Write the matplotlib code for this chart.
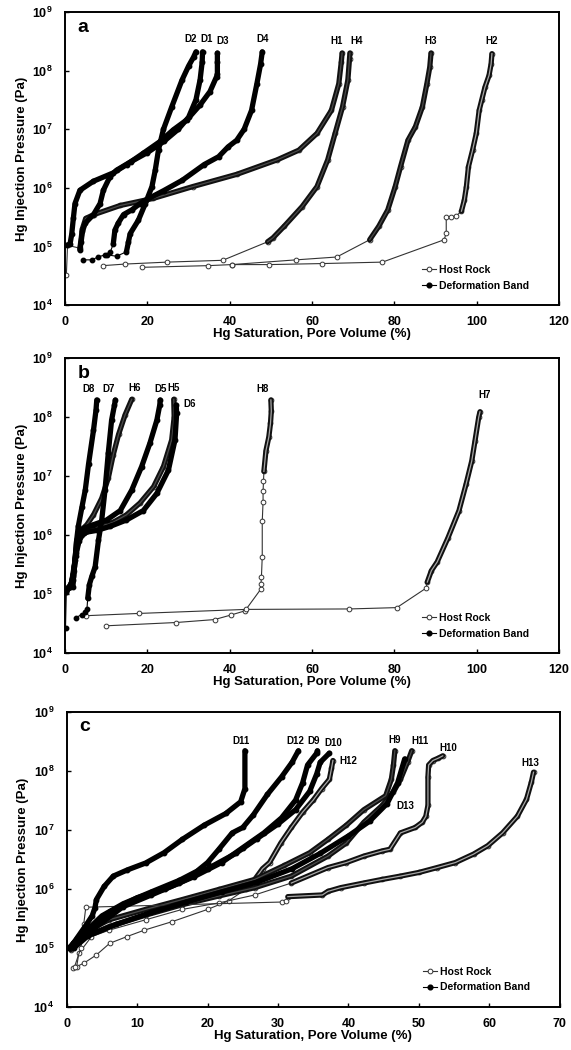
import numpy as np
import matplotlib
matplotlib.use("Agg")
import matplotlib.pyplot as plt
from matplotlib.lines import Line2D

plt.rcParams['font.family'] = ['Liberation Sans', 'DejaVu Sans']
plt.rcParams['font.weight'] = 'bold'
plt.rcParams['mathtext.fontset'] = 'custom'
plt.rcParams['mathtext.rm'] = 'Liberation Sans:bold'
plt.rcParams['mathtext.default'] = 'rm'

# ---- panel a : saturation (%) and injection pressure (Pa) ----
a_d1_x = [3.6, 3.9, 4.2, 4.9, 6.9, 8.5, 9.3, 10.9, 12.5, 16, 20, 24, 27.5, 30, 31.8, 32.8, 33.3, 33.4]
a_d1_p = [8.7e4, 1.2e5, 1.8e5, 2.5e5, 3.5e5, 5.4e5, 9.1e5, 1.55e6, 2e6, 2.8e6, 4e6, 6.2e6, 1e7, 1.6e7, 3.2e7, 7e7, 1.4e8, 2.1e8]
a_d2_x = [10.1, 12.5, 14.9, 15.4, 15.8, 17.8, 19.5, 21.1, 21.9, 22.7, 23.9, 25.9, 28.4, 30.0, 31.2, 31.8]
a_d2_p = [7.2e4, 6.8e4, 8.1e4, 1.2e5, 1.65e5, 2.8e5, 5.4e5, 1.05e6, 2e6, 4.5e6, 1e7, 2.4e7, 6.9e7, 1.2e8, 1.7e8, 2.1e8]
a_d3_x = [0.5, 1.2, 1.6, 2.0, 2.4, 3.6, 6.9, 11.7, 15.0, 19.0, 23.1, 26.3, 29.6, 32.8, 35.2, 36.8, 37.0, 37.0, 37.0]
a_d3_p = [1.05e5, 1.1e5, 1.6e5, 3e5, 5.4e5, 9.1e5, 1.3e6, 1.8e6, 2.5e6, 3.9e6, 6.2e6, 9.8e6, 1.45e7, 2.6e7, 4.4e7, 7.9e7, 8.9e7, 1.4e8, 2e8]
a_d4_x = [4.4, 6.6, 7.9, 9.8, 11.0, 11.7, 12.1, 12.9, 14.2, 16.2, 18.2, 19.6, 24.0, 28.5, 33.8, 37.3, 39.6, 41.7, 43.5, 45.3, 46.6, 47.5, 47.9]
a_d4_p = [5.9e4, 5.9e4, 6.6e4, 7.2e4, 8.1e4, 1.1e5, 1.9e5, 2.5e5, 3.5e5, 4.2e5, 5.4e5, 6.2e5, 9e5, 1.35e6, 2.5e6, 3.4e6, 5e6, 6.5e6, 1e7, 2.1e7, 6e7, 1.3e8, 2.1e8]
a_h1_x = [0.3, 0.6, 3.6, 4.2, 5.0, 7.0, 13.4, 21.4, 31.0, 41.7, 51.5, 56.8, 61.2, 64.7, 66.5, 67.1, 67.3]
a_h1_p = [3.2e4, 1.05e5, 9.3e4, 2e5, 3e5, 3.5e5, 5e5, 6.6e5, 1.05e6, 1.7e6, 3e6, 4.4e6, 8.5e6, 2.1e7, 6e7, 1.4e8, 2e8]
a_h4_x = [9.2, 14.5, 24.8, 38.3, 49.2, 50.5, 53.2, 57.6, 61.2, 63.8, 65.6, 67.4, 68.7, 69.1, 69.2]
a_h4_p = [4.7e4, 5e4, 5.4e4, 5.8e4, 1.2e5, 1.4e5, 2.2e5, 4.8e5, 1.05e6, 3e6, 8.5e6, 2.4e7, 6.9e7, 1.6e8, 2e8]
a_h3_x = [40.5, 56.1, 66.0, 74.0, 76.2, 78.4, 80.2, 81.5, 83.3, 85.1, 86.8, 87.9, 88.6, 88.9]
a_h3_p = [4.9e4, 5.9e4, 6.6e4, 1.3e5, 2.2e5, 4.2e5, 1.05e6, 2.3e6, 6.5e6, 1.1e7, 2.4e7, 6e7, 1.15e8, 2e8]
a_h2_x = [18.6, 34.7, 40.5, 49.5, 62.4, 77.1, 92.1, 92.6, 92.6, 93.7, 95.0, 96.3, 97.0, 97.5, 98.0, 99.0, 99.9, 100.6, 101.2, 102.0, 103.0, 103.5, 103.7]
a_h2_p = [4.4e4, 4.7e4, 4.9e4, 4.9e4, 5.1e4, 5.4e4, 1.3e5, 1.7e5, 3.2e5, 3.2e5, 3.3e5, 4e5, 6.2e5, 1.05e6, 2.3e6, 4.4e6, 8.5e6, 2.1e7, 3.1e7, 5.2e7, 8.3e7, 1.3e8, 1.95e8]

# ---- panel b ----
b_d8_x = [0.1, 0.3, 1.0, 1.9, 2.0, 2.4, 2.8, 3.2, 4.1, 4.9, 5.7, 6.9, 7.5, 7.7]
b_d8_p = [2.7e4, 1.1e5, 1.3e5, 1.3e5, 1.7e5, 3.8e5, 8.1e5, 1.4e6, 3e6, 5.8e6, 1.6e7, 6e7, 1.3e8, 1.95e8]
b_d7_x = [2.7, 4.0, 4.9, 5.3, 5.5, 5.9, 6.5, 7.3, 8.1, 8.9, 9.7, 10.5, 11.3, 12.0, 12.2]
b_d7_p = [4.0e4, 4.5e4, 5.0e4, 5.5e4, 8.5e4, 1.45e5, 2e5, 2.9e5, 8.1e5, 1.8e6, 5.8e6, 2.5e7, 8.9e7, 1.6e8, 1.95e8]
b_h6_x = [0.3, 0.8, 1.5, 2.2, 2.8, 3.6, 5.3, 6.9, 8.9, 10.5, 11.7, 13.0, 14.6, 16.2]
b_h6_p = [1.1e5, 1.3e5, 1.5e5, 2.5e5, 8e5, 1.15e6, 1.5e6, 2.2e6, 4.2e6, 9.3e6, 2.3e7, 5.1e7, 1.1e8, 2e8]
b_d5_x = [0.5, 1.2, 2.0, 2.6, 3.2, 4.5, 6.9, 10.1, 13.4, 16.2, 18.6, 20.6, 22.3, 23.0, 23.1]
b_d5_p = [1.2e5, 1.3e5, 2e5, 5e5, 9.3e5, 1.3e6, 1.5e6, 1.8e6, 2.6e6, 5.8e6, 1.45e7, 3.6e7, 8.9e7, 1.6e8, 1.95e8]
b_h5_x = [1.0, 1.6, 2.2, 3.0, 4.0, 6.1, 8.5, 11.7, 14.9, 18.2, 21.5, 23.9, 25.9, 26.5, 26.4]
b_h5_p = [1.3e5, 1.6e5, 3e5, 7e5, 1e6, 1.2e6, 1.4e6, 1.65e6, 2.2e6, 3.5e6, 6.6e6, 1.45e7, 4.1e7, 1e8, 2e8]
b_d6_x = [1.3, 2.0, 2.6, 3.4, 4.5, 7.7, 10.9, 14.9, 19.0, 22.3, 25.1, 26.7, 27.1, 27.0]
b_d6_p = [1.3e5, 2.2e5, 4.5e5, 8e5, 1.1e6, 1.2e6, 1.4e6, 1.8e6, 2.6e6, 5.1e6, 1.26e7, 4.1e7, 1.15e8, 1.6e8]
b_h8_x = [9.9, 27.0, 36.3, 40.2, 43.7, 47.5, 47.6, 47.7, 47.9, 47.9, 48.1, 48.1, 48.2, 48.3, 48.8, 49.5, 49.9, 50.1, 50.0]
b_h8_p = [2.9e4, 3.3e4, 3.7e4, 4.4e4, 5.2e4, 1.2e5, 1.5e5, 1.95e5, 4.3e5, 1.7e6, 3.7e6, 5.5e6, 8.1e6, 1.2e7, 2.7e7, 4.6e7, 7.8e7, 1.26e8, 1.95e8]
b_h7_x = [5.0, 17.9, 43.9, 69.0, 80.6, 87.7, 88.0, 89.0, 90.4, 93.0, 95.7, 97.4, 98.8, 99.6, 100.5, 100.8]
b_h7_p = [4.3e4, 4.7e4, 5.5e4, 5.6e4, 5.9e4, 1.26e5, 1.6e5, 2.5e5, 3.5e5, 8.9e5, 2.6e6, 7.2e6, 1.8e7, 4e7, 1e8, 1.23e8]

# ---- panel c ----
c_d11_x = [0.6, 1.5, 2.8, 3.6, 4.0, 4.2, 5.3, 6.6, 8.6, 11.2, 13.8, 16.4, 19.5, 22.6, 24.7, 25.3, 25.3]
c_d11_p = [1.05e5, 1.5e5, 2.5e5, 3.5e5, 4.8e5, 6.6e5, 1.1e6, 1.65e6, 2.1e6, 2.75e6, 4.1e6, 6.9e6, 1.2e7, 1.9e7, 3e7, 5e7, 2.2e8]
c_d12_x = [0.3, 2.0, 5.0, 8.0, 12.0, 16.0, 18.5, 20.0, 21.6, 23.5, 25.0, 26.5, 28.5, 30.5, 32.0, 32.9]
c_d12_p = [1e5, 1.6e5, 3.5e5, 5.6e5, 8.9e5, 1.4e6, 2e6, 2.8e6, 4.7e6, 8.9e6, 1.1e7, 1.8e7, 4e7, 7.9e7, 1.4e8, 2.2e8]
c_d9_x = [0.8, 3, 6, 10, 14, 18, 22, 25, 28, 30.5, 32.5, 33.5, 34.2, 35.5, 35.6]
c_d9_p = [1.1e5, 2e5, 4e5, 7.1e5, 1e6, 1.6e6, 2.8e6, 5e6, 8.9e6, 1.6e7, 3.2e7, 6.3e7, 1.26e8, 2e8, 2.2e8]
c_d10_x = [1.2, 4, 8, 12, 16, 20, 24, 27, 30, 32.5, 34.5, 35.5, 36.0, 37.3]
c_d10_p = [1.1e5, 2.2e5, 5e5, 7.9e5, 1.26e6, 2.2e6, 4e6, 7.1e6, 1.26e7, 2.2e7, 4.5e7, 8.9e7, 1.4e8, 2e8]
c_h12_x = [0.9, 2.5, 4.2, 6.1, 8.5, 11, 15, 20, 23, 25.5, 26.7, 27.8, 28.8, 30.4, 31.9, 33.5, 35.0, 36.2, 37.3, 37.6, 37.8]
c_h12_p = [4.5e4, 5.6e4, 7.6e4, 1.2e5, 1.55e5, 2e5, 2.8e5, 4.5e5, 6.3e5, 1e6, 1.45e6, 2.2e6, 2.8e6, 6e6, 1.1e7, 2e7, 3.2e7, 5e7, 7.2e7, 1.1e8, 1.5e8]
c_h9_x = [0.9, 2.4, 6, 11.2, 16.4, 21.6, 26.7, 30.9, 34.5, 37.1, 39.7, 42.2, 45.3, 46.1, 46.4, 46.6]
c_h9_p = [1.2e5, 1.8e5, 3e5, 4.5e5, 6.6e5, 9.8e5, 1.45e6, 2.5e6, 4.1e6, 6.9e6, 1.2e7, 2.2e7, 3.8e7, 7.2e7, 1.26e8, 2.2e8]
c_h11_x = [0.6, 1.9, 6, 11.2, 16.4, 21.6, 26.7, 31.9, 37.1, 39.7, 42.2, 44.8, 46.4, 47.4, 48.4, 49.0]
c_h11_p = [9.3e4, 1.4e5, 2.3e5, 3.6e5, 5.4e5, 7.6e5, 1.05e6, 1.65e6, 3.6e6, 6e6, 1.35e7, 2.6e7, 4.4e7, 7.2e7, 1.4e8, 2.2e8]
c_d13_x = [1.0, 3.0, 7.0, 12.0, 17.0, 22.0, 27.0, 32.0, 36.0, 40.0, 43.0, 45.5, 47.0, 48.0]
c_d13_p = [1e5, 1.6e5, 2.5e5, 4e5, 6e5, 8.9e5, 1.3e6, 2.2e6, 4e6, 7.9e6, 1.4e7, 2.8e7, 6.3e7, 1.6e8]
c_h10_x = [1.4, 1.7, 3.5, 6.0, 11.2, 16.4, 21.6, 26.7, 31.9, 37.1, 39.7, 42.2, 44.8, 45.9, 47.4, 49.5, 50.5, 51.0, 51.3, 51.3, 51.4, 52.0, 52.8, 53.4]
c_h10_p = [4.8e4, 8.1e4, 1.55e5, 2e5, 3e5, 4.5e5, 5.8e5, 7.9e5, 1.26e6, 2.3e6, 2.8e6, 3.6e6, 4.4e6, 4.7e6, 8.9e6, 1.1e7, 1.35e7, 1.7e7, 2.6e7, 7.9e7, 1.26e8, 1.5e8, 1.65e8, 1.8e8]
c_h13_x = [1.1, 2.0, 2.4, 2.7, 30.6, 31.2, 31.4, 36.3, 37.1, 38.9, 42.2, 44.8, 47.4, 50.0, 52.6, 55.2, 57.8, 59.8, 61.9, 64.0, 65.3, 66.0, 66.3]
c_h13_p = [4.8e4, 1e5, 2.5e5, 4.9e5, 6e5, 6.3e5, 7.4e5, 7.9e5, 9.1e5, 1.05e6, 1.26e6, 1.45e6, 1.65e6, 1.9e6, 2.3e6, 2.8e6, 3.9e6, 5.4e6, 8.9e6, 1.7e7, 3.3e7, 6.5e7, 9.5e7]

panel_a = [("D1", a_d1_x, a_d1_p), ("D2", a_d2_x, a_d2_p), ("D3", a_d3_x, a_d3_p),
           ("D4", a_d4_x, a_d4_p), ("H1", a_h1_x, a_h1_p), ("H4", a_h4_x, a_h4_p),
           ("H3", a_h3_x, a_h3_p), ("H2", a_h2_x, a_h2_p)]
panel_b = [("D8", b_d8_x, b_d8_p), ("D7", b_d7_x, b_d7_p), ("H6", b_h6_x, b_h6_p),
           ("D5", b_d5_x, b_d5_p), ("H5", b_h5_x, b_h5_p), ("D6", b_d6_x, b_d6_p),
           ("H8", b_h8_x, b_h8_p), ("H7", b_h7_x, b_h7_p)]
panel_c = [("D11", c_d11_x, c_d11_p), ("D12", c_d12_x, c_d12_p), ("D9", c_d9_x, c_d9_p),
           ("D10", c_d10_x, c_d10_p), ("H12", c_h12_x, c_h12_p), ("H9", c_h9_x, c_h9_p),
           ("H11", c_h11_x, c_h11_p), ("D13", c_d13_x, c_d13_p), ("H10", c_h10_x, c_h10_p),
           ("H13", c_h13_x, c_h13_p)]

# where the densely sampled part of each curve begins (point index)
dense_start = {"D1": 0, "D2": 2, "D3": 0, "D4": 5, "H1": 2, "H4": 4, "H3": 3, "H2": 11,
               "D8": 1, "D7": 4, "H6": 0, "D5": 0, "H5": 0, "D6": 0, "H8": 13, "H7": 6,
               "D11": 0, "D12": 0, "D9": 0, "D10": 0, "H12": 9, "H9": 0, "H11": 0,
               "D13": 0, "H10": 8, "H13": 6}
# host-rock curves whose open circles overlap so tightly they read as a black band
solid_hosts = {"H1", "H3", "H4", "H5", "H6", "H9", "H11"}
# label placement: (anchor point index, dx pt, dy pt)
label_pos = {"D2": (-1, -4, 9), "D1": (-1, 3, 9), "D3": (-1, 4, 9), "D4": (-1, 0, 9),
             "H1": (-1, -4, 9), "H4": (-1, 5, 9), "H3": (-1, 0, 9), "H2": (-1, 0, 9),
             "D8": (-1, -6, 8), "D7": (-1, -5, 8), "H6": (-1, 2, 8), "D5": (-1, 0, 8),
             "H5": (-1, 0, 8), "D6": (-1, 10, 1), "H8": (-1, -6, 8), "H7": (-1, 3, 12),
             "D11": (-1, -3, 7), "D12": (-1, -2, 7), "D9": (-1, -3, 7), "D10": (-1, 3, 7),
             "H12": (-1, 11, 0), "H9": (-1, 0, 8), "H11": (-1, 6, 7), "D13": (11, 13, -2),
             "H10": (-1, 4, 6), "H13": (-1, -2, 7)}


def draw_curve(ax, name, x, p):
    k = dense_start[name]
    if name.startswith("D"):
        ax.plot(x, p, '-', color='k', lw=0.8, marker='o', ms=3.2, mfc='k', mec='k', zorder=3)
        ax.plot(x[k:], p[k:], '-', color='k', lw=3.8, solid_capstyle='round',
                solid_joinstyle='round', zorder=3)
    else:
        ax.plot(x, p, '-', color='#333333', lw=0.8, marker='o', ms=3.4, mfc='white',
                mec='#333333', mew=0.7, zorder=2)
        ax.plot(x[k:], p[k:], '-', color='#111111', lw=3.8, solid_capstyle='round',
                solid_joinstyle='round', zorder=2)
        inner = '#4a4a4a' if name in solid_hosts else '#a8a8a8'
        ax.plot(x[k:], p[k:], '-', color=inner, lw=0.9, zorder=2)
    i, dx, dy = label_pos[name]
    ax.annotate(name, (x[i], p[i]), xytext=(dx, dy), textcoords='offset points',
                ha='center', va='center', fontsize=7, fontweight='bold', zorder=5)


def setup(ax, letter, xmax, xstep):
    ax.set_yscale('log')
    ax.set_ylim(1e4, 1e9)
    ax.set_xlim(0, xmax)
    ax.set_xticks(np.arange(0, xmax + 1, xstep))
    ax.set_yticks([1e4, 1e5, 1e6, 1e7, 1e8, 1e9])
    ax.minorticks_off()
    ax.tick_params(direction='in', length=3, width=1, labelsize=9)
    ax.tick_params(axis='x', pad=8)
    ax.tick_params(axis='y', pad=9)
    for s in ax.spines.values():
        s.set_linewidth(1.4)
    ax.set_xlabel('Hg Saturation, Pore Volume (%)', fontsize=9.5, fontweight='bold', labelpad=0)
    ax.set_ylabel('Hg Injection Pressure (Pa)', fontsize=9.5, fontweight='bold', labelpad=3)
    ax.text(0.025, 0.978, letter, transform=ax.transAxes, fontsize=14, fontweight='bold',
            ha='left', va='top')
    handles = [Line2D([], [], color='#333333', lw=0.8, marker='o', ms=3.4, mfc='white',
                      mec='#333333', mew=0.7),
               Line2D([], [], color='k', lw=0.8, marker='o', ms=3.4, mfc='k', mec='k')]
    ax.legend(handles, ['Host Rock', 'Deformation Band'], loc='lower left',
              bbox_to_anchor=(0.715, 0.035), frameon=False, handlelength=1.3,
              handletextpad=0.3, labelspacing=0.55, borderaxespad=0,
              prop={'size': 7.5, 'weight': 'bold'})


fig = plt.figure(figsize=(5.71, 10.5), dpi=100)
ax_a = fig.add_axes([0.114, 0.7095, 0.865, 0.279])
ax_b = fig.add_axes([0.114, 0.378, 0.865, 0.281])
ax_c = fig.add_axes([0.117, 0.041, 0.863, 0.281])

for ax, curves, letter, xmax, xstep in [(ax_a, panel_a, 'a', 120, 20),
                                         (ax_b, panel_b, 'b', 120, 20),
                                         (ax_c, panel_c, 'c', 70, 10)]:
    setup(ax, letter, xmax, xstep)
    for name, x, p in curves:
        draw_curve(ax, name, x, p)

fig.savefig('out.png', dpi=100)
